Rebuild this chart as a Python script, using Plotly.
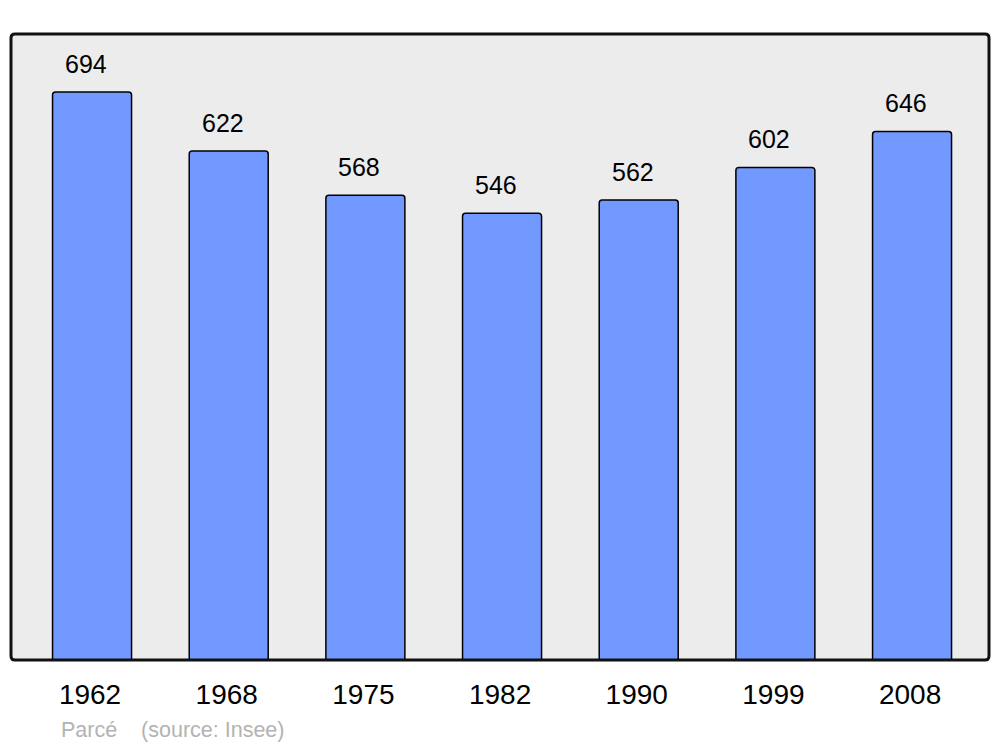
import plotly.graph_objects as go

years = ["1962", "1968", "1975", "1982", "1990", "1999", "2008"]
population = [694, 622, 568, 546, 562, 602, 646]
source_text = "Parcé    (source: Insee)"

FONT = "Liberation Sans, Arial, sans-serif"

fig = go.Figure()
fig.add_trace(go.Bar(
    x=years, y=population, width=0.578,
    marker=dict(color="#7299ff", line=dict(color="#000000", width=1.5), cornerradius=3),
    hoverinfo="x+y",
))

pa_w, pa_h = 1000 - 22, 747 - 34 - 87
annotations = []
for i, v in enumerate(population):
    annotations.append(dict(x=i, y=v, xref="x", yref="y", text=str(v), showarrow=False,
                            yanchor="middle", yshift=28, xshift=-6,
                            font=dict(family=FONT, size=25, color="#000")))
annotations.append(dict(x=(59 - 11) / pa_w, y=(660 - 730) / pa_h, xref="paper", yref="paper",
                        xanchor="left", yanchor="middle", text=source_text, showarrow=False,
                        font=dict(family=FONT, size=21.5, color="#b3b3b3")))

rx, ry = 4 / pa_w, 4 / pa_h
border = (f"M {rx},0 L {1-rx},0 Q 1,0 1,{ry} L 1,{1-ry} Q 1,1 {1-rx},1 "
          f"L {rx},1 Q 0,1 0,{1-ry} L 0,{ry} Q 0,0 {rx},0 Z")

fig.update_layout(
    width=1000, height=747,
    margin=dict(l=11, r=11, t=34, b=87),
    paper_bgcolor="#ffffff", plot_bgcolor="#ececec",
    showlegend=False,
    xaxis=dict(type="category", range=[-0.593, 6.563], showgrid=False, zeroline=False,
               ticks="outside", ticklen=9, tickcolor="rgba(0,0,0,0)", ticklabelshift=-2,
               tickfont=dict(family=FONT, size=28, color="#000")),
    yaxis=dict(range=[0, 765], showgrid=False, zeroline=False, showticklabels=False),
    shapes=[dict(type="path", xref="paper", yref="paper", path=border,
                 line=dict(color="#111", width=3), fillcolor="rgba(0,0,0,0)", layer="above")],
    annotations=annotations,
)

fig.write_html("out.html", config={"displayModeBar": False},
               post_script="document.body.style.margin='0';")
